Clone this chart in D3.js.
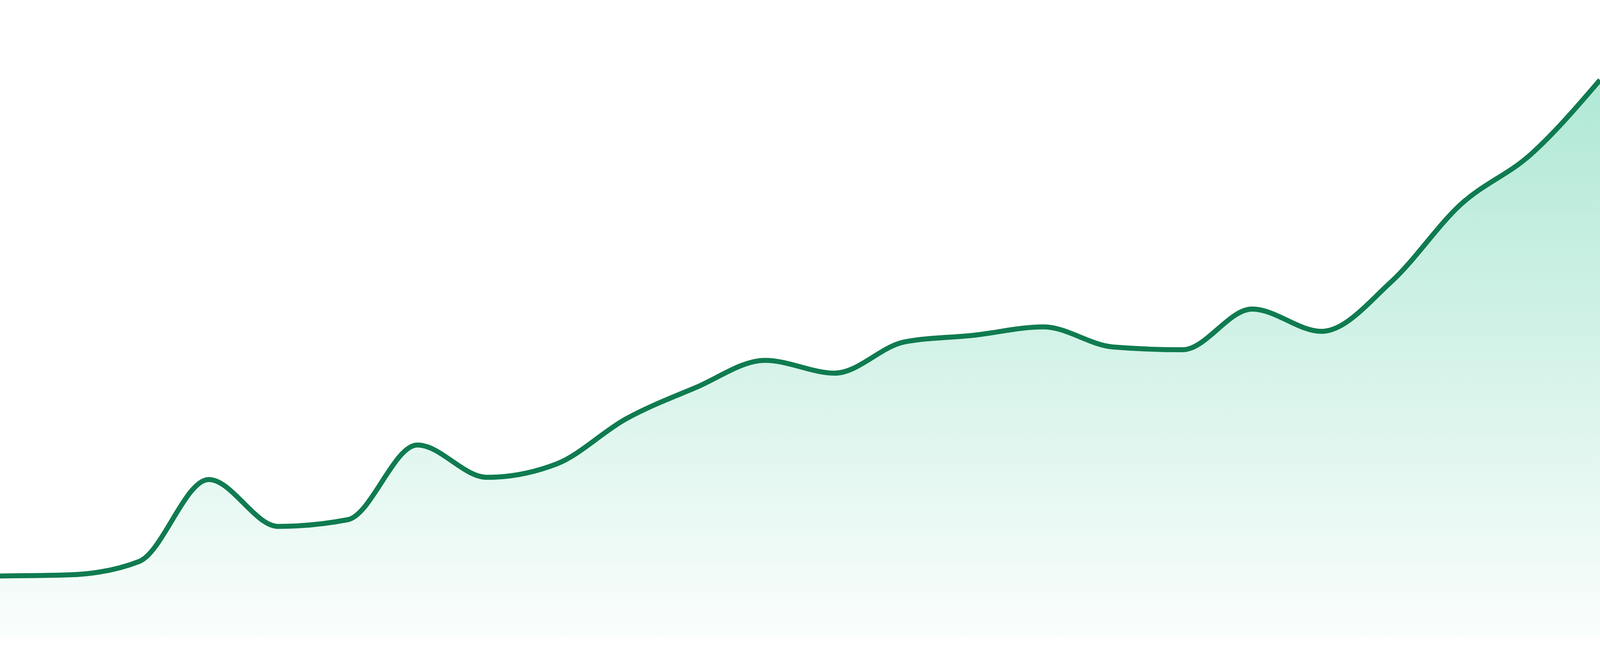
<!DOCTYPE html>
<html>
<head>
<meta charset="utf-8">
<script src="https://cdn.jsdelivr.net/npm/d3@7"></script>
<style>
  html, body { margin: 0; padding: 0; background: #fff; overflow: hidden; }
  svg { display: block; }
</style>
</head>
<body>
<div id="chart"></div>
<script>
// size to the real viewport, the reference layout is 4800 x 1680
var width = document.documentElement.clientWidth || 4800;
var height = window.innerHeight || 1680;
var k = width / 4800;

// values, one per step
var values = [11.0, 11.2, 13.6, 28.3, 19.9, 21.1, 34.5, 28.7, 31.1, 39.2, 44.8, 49.7,
              47.4, 53.0, 54.2, 55.7, 52.1, 51.6, 58.9, 54.9, 63.8, 77.7, 86.6, 100];
var steps = d3.range(values.length);

var xScale = d3.scaleLinear().domain([0, values.length - 1]).range([0, width]);
var yScale = d3.scaleLinear().domain([0, 100])
  .range([height * 1632 / 1680, height * 205 / 1680]);

var svg = d3.select("#chart")
  .append("svg")
  .attr("width", width)
  .attr("height", height);

// fill gradient, fades out towards the bottom
var grad = svg.append("defs")
  .append("linearGradient")
  .attr("id", "fillGrad")
  .attr("x1", 0).attr("y1", 0)
  .attr("x2", 0).attr("y2", 1);
grad.append("stop").attr("offset", "0%").attr("stop-color", "#10b981").attr("stop-opacity", 0.33);
grad.append("stop").attr("offset", "100%").attr("stop-color", "#10b981").attr("stop-opacity", 0.02);

var area = d3.area()
  .x(function (d) { return xScale(d); })
  .y0(yScale(0))
  .y1(function (d) { return yScale(values[d]); })
  .curve(d3.curveMonotoneX);

var line = d3.line()
  .x(function (d) { return xScale(d); })
  .y(function (d) { return yScale(values[d]); })
  .curve(d3.curveMonotoneX);

svg.append("path")
  .datum(steps)
  .attr("d", area)
  .attr("fill", "url(#fillGrad)");

svg.append("path")
  .datum(steps)
  .attr("d", line)
  .attr("fill", "none")
  .attr("stroke", "#0f7b50")
  .attr("stroke-width", 15 * k)
  .attr("stroke-linejoin", "round");
</script>
</body>
</html>
